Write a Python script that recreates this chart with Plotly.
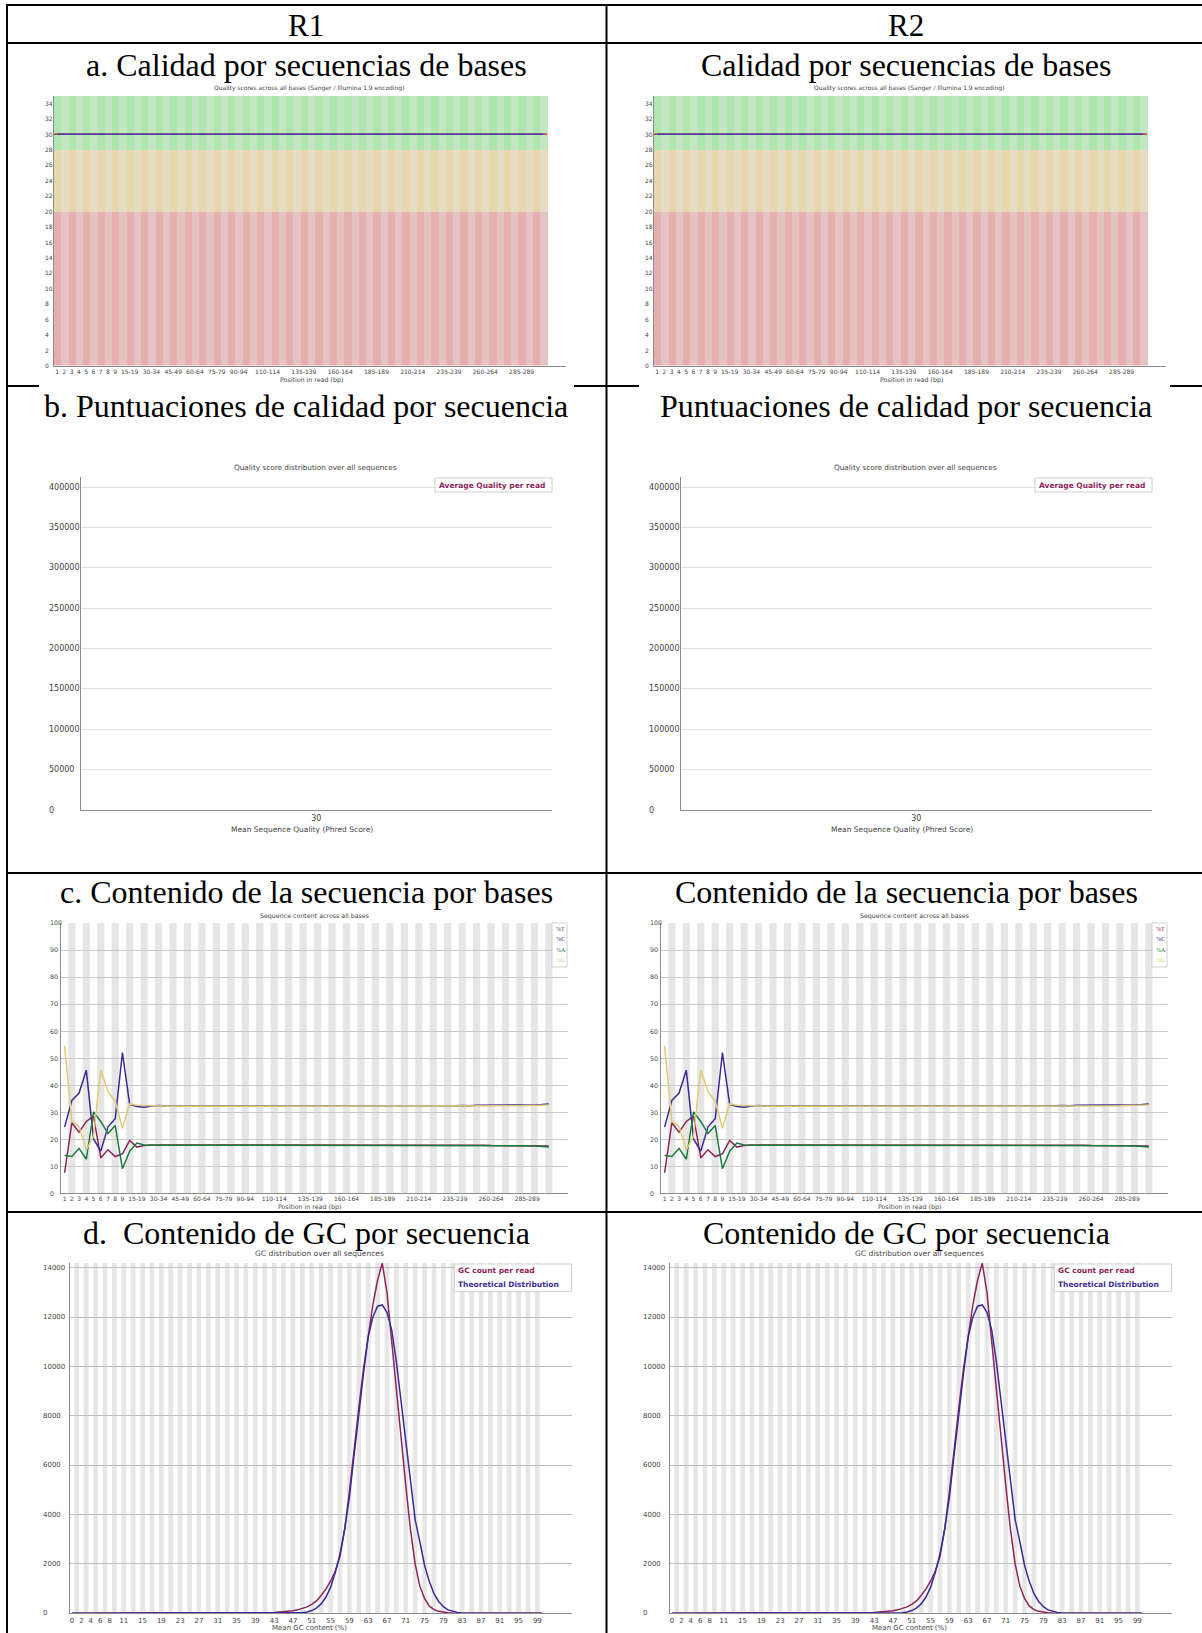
import plotly.graph_objects as go

W, H = 1202, 1633

# ---------------- data ----------------
# read positions (FastQC base groups) for a 301 bp read
positions = [str(i) for i in range(1, 10)] + [f"{s}-{s+4}" for s in range(10, 300, 5)] + ["300-301"]
shown_position_labels = ["1", "2", "3", "4", "5", "6", "7", "8", "9", "15-19", "30-34", "45-49",
                         "60-64", "75-79", "90-94", "110-114", "135-139", "160-164", "185-189",
                         "210-214", "235-239", "260-264", "285-289"]

# a. per base quality (all bases binned at Q30)
quality_mean = [30.0] * 68
quality_median = [30.0] * 68
quality_zone_limits = [0, 20, 28, 35]          # poor / reasonable / good
quality_ticks = [0, 2, 4, 6, 8, 10, 12, 14, 16, 18, 20, 22, 24, 26, 28, 30, 32, 34]

# b. per sequence quality
phred_scores = ["30"]
reads_per_quality = [412500]
count_ticks = [0, 50000, 100000, 150000, 200000, 250000, 300000, 350000, 400000]

# c. per base sequence content (%)
pct_T = [7.5, 26.0, 22.5, 26.5, 28.5, 13.0, 16.0, 13.5, 14.5, 19.5,
         17.0, 17.6, 17.8, 17.8, 17.8, 17.7, 17.8, 17.8, 17.8, 17.8,
         17.8, 17.8, 17.8, 17.8, 17.8, 17.8, 17.8, 17.8, 17.8, 17.8,
         17.8, 17.8, 17.8, 17.8, 17.8, 17.8, 17.8, 17.8, 17.8, 17.8,
         17.8, 17.9, 17.9, 17.9, 17.8, 17.8, 17.8, 17.8, 17.8, 17.8,
         17.8, 17.8, 17.8, 17.7, 17.7, 17.7, 17.7, 17.7, 17.7, 17.6,
         17.6, 17.6, 17.6, 17.6, 17.6, 17.6, 17.5, 17.4]
pct_C = [24.4, 34.3, 37.0, 45.5, 20.0, 15.5, 24.5, 27.5, 52.0, 32.8,
         32.0, 31.8, 32.2, 32.4, 32.2, 32.2, 32.2, 32.1, 32.2, 32.1,
         32.1, 32.2, 32.2, 32.2, 32.2, 32.2, 32.2, 32.1, 32.2, 32.2,
         32.2, 32.2, 32.2, 32.2, 32.2, 32.2, 32.1, 32.2, 32.2, 32.2,
         32.2, 32.2, 32.2, 32.2, 32.2, 32.2, 32.2, 32.2, 32.2, 32.2,
         32.2, 32.2, 32.2, 32.3, 32.3, 32.4, 32.3, 32.5, 32.5, 32.6,
         32.6, 32.5, 32.5, 32.6, 32.7, 32.7, 32.8, 33.0]
pct_A = [14.0, 13.5, 16.5, 12.5, 30.0, 26.5, 22.0, 25.0, 9.0, 15.5,
         18.5, 17.8, 17.7, 17.7, 17.7, 17.7, 17.7, 17.7, 17.7, 17.7,
         17.7, 17.7, 17.7, 17.7, 17.7, 17.7, 17.7, 17.7, 17.7, 17.7,
         17.7, 17.7, 17.7, 17.7, 17.7, 17.7, 17.7, 17.7, 17.7, 17.7,
         17.7, 17.7, 17.7, 17.7, 17.7, 17.7, 17.7, 17.7, 17.7, 17.7,
         17.7, 17.7, 17.7, 17.7, 17.7, 17.7, 17.7, 17.6, 17.6, 17.6,
         17.6, 17.6, 17.5, 17.5, 17.5, 17.4, 17.3, 17.0]
pct_G = [54.5, 26.5, 24.5, 16.0, 21.0, 45.5, 37.5, 34.0, 24.0, 33.0,
         32.5, 32.4, 32.2, 32.2, 32.2, 32.1, 32.1, 32.1, 32.1, 32.1,
         32.1, 32.1, 32.1, 32.1, 32.1, 32.1, 32.1, 32.1, 32.1, 32.1,
         32.1, 32.1, 32.1, 32.1, 32.1, 32.1, 32.1, 32.1, 32.1, 32.1,
         32.1, 32.1, 32.1, 32.1, 32.1, 32.1, 32.1, 32.1, 32.1, 32.1,
         32.1, 32.1, 32.1, 32.2, 32.2, 32.2, 32.2, 32.2, 32.2, 32.3,
         32.3, 32.3, 32.3, 32.3, 32.4, 32.4, 32.5, 32.6]
percent_ticks = [0, 10, 20, 30, 40, 50, 60, 70, 80, 90, 100]

# d. per sequence GC content
gc_percent = list(range(0, 101))
gc_count = [0, 0, 0, 0, 0, 0, 0, 0, 0, 0,
            0, 0, 0, 0, 0, 0, 0, 0, 0, 0,
            0, 0, 0, 0, 0, 0, 0, 0, 0, 0,
            0, 1, 1, 2, 2, 3, 4, 5, 6, 8,
            12, 18, 25, 35, 45, 60, 80, 105, 140, 190,
            260, 360, 500, 720, 980, 1300, 1700, 2300, 3400, 4900,
            6700, 8300, 9900, 11200, 12500, 13500, 14200, 13000, 11000, 9200,
            7200, 5200, 3400, 2000, 1100, 600, 300, 150, 80, 40,
            20, 10, 5, 3, 2, 1, 0, 0, 0, 0,
            0, 0, 0, 0, 0, 0, 0, 0, 0, 0,
            0]
gc_theoretical = [0, 0, 0, 0, 0, 0, 0, 0, 0, 0,
                  0, 0, 0, 0, 0, 0, 0, 0, 0, 0,
                  0, 0, 0, 0, 0, 0, 0, 0, 0, 0,
                  0, 0, 0, 0, 0, 0, 0, 0, 0, 0,
                  0, 0, 0, 0, 0, 1, 2, 5, 11, 25,
                  55, 110, 210, 380, 650, 1050, 1650, 2400, 3400, 4700,
                  6400, 8100, 9700, 11200, 12000, 12450, 12500, 12200, 11500, 10200,
                  8700, 7000, 5400, 3800, 2900, 1950, 1300, 800, 480, 270,
                  140, 70, 32, 14, 6, 2, 1, 0, 0, 0,
                  0, 0, 0, 0, 0, 0, 0, 0, 0, 0,
                  0]
gc_xticks = [0, 2, 4, 6, 8, 11, 15, 19, 23, 27, 31, 35, 39, 43, 47, 51, 55, 59, 63, 67, 71, 75, 79, 83, 87, 91, 95, 99]
gc_yticks = [0, 2000, 4000, 6000, 8000, 10000, 12000, 14000]

column_headers = ["R1", "R2"]
row_titles = [
    ["a. Calidad por secuencias de bases", "Calidad por secuencias de bases"],
    ["b. Puntuaciones de calidad por secuencia", "Puntuaciones de calidad por secuencia"],
    ["c. Contenido de la secuencia por bases", "Contenido de la secuencia por bases"],
    ["d.\u00a0 Contenido de GC por secuencia", "Contenido de GC por secuencia"],
]

# ---------------- styling ----------------
FONT = "DejaVu Sans"
SERIF = "Liberation Serif"
TXT = "#444444"
AXLINE = "#8c8c8c"
STRIPE = "#e6e6e6"
COL_T, COL_C, COL_A, COL_G = "#8e2459", "#3a2c98", "#1a7a3a", "#dccb78"
ZONE_COLORS = [("#e6afaf", "#e6c3c3"), ("#e6d7af", "#e6dcc3"), ("#afe6af", "#c3e6c3")]
COL_OFF = [0, 600]

fig = go.Figure()
annotations = []
shapes = []
axes = {}


def px_x(px):
    return px / W


def px_y(py):
    return 1 - py / H


def ids(k):
    s = "" if k == 1 else str(k)
    return "x" + s, "y" + s, "xaxis" + s, "yaxis" + s


def label(x, y, s, size, color=TXT, family=FONT, xanchor="center", yanchor="middle",
          xref="paper", yref="paper"):
    annotations.append(dict(x=x, y=y, xref=xref, yref=yref, text=s, showarrow=False,
                            xanchor=xanchor, yanchor=yanchor,
                            font=dict(family=family, size=size, color=color)))


def base_axes(xa, ya, xk, yk, x0, x1, top, bottom):
    axes[xk] = dict(domain=[px_x(x0), px_x(x1)], anchor=ya,
                    showgrid=False, zeroline=False, showline=True, linecolor=AXLINE, linewidth=1,
                    ticks="", fixedrange=True)
    axes[yk] = dict(domain=[px_y(bottom), px_y(top)], anchor=xa, showgrid=False, zeroline=False,
                    showline=True, linecolor=AXLINE, linewidth=1, ticks="",
                    showticklabels=False, fixedrange=True)


def legend_box(x0, x1, top, bottom):
    shapes.append(dict(type="rect", xref="paper", yref="paper", x0=px_x(x0), x1=px_x(x1),
                       y0=px_y(bottom), y1=px_y(top), line=dict(color="#cfcfcf", width=1),
                       fillcolor="white", layer="above"))


group_x = list(range(1, len(positions) + 1))
pos_tickvals = [positions.index(l) + 1 for l in shown_position_labels]

for col in range(2):
    off = COL_OFF[col]

    # ---------- a. per base quality ----------
    xa, ya, xk, yk = ids(1 + col)
    x0, x1, top, bottom = 53.5 + off, 566 + off, 95.5, 365.5
    gw = (547 - 53.5) / len(positions)
    base_axes(xa, ya, xk, yk, x0, x1, top, bottom)
    axes[xk].update(range=[0.5, 0.5 + (x1 - x0) / gw], tickvals=pos_tickvals,
                    ticktext=shown_position_labels, tickfont=dict(family=FONT, size=6, color=TXT))
    axes[yk].update(range=[quality_zone_limits[0], quality_zone_limits[-1]])
    for z in range(3):
        lo, hi = quality_zone_limits[z], quality_zone_limits[z + 1]
        dark, light = ZONE_COLORS[z]
        fig.add_trace(go.Bar(x=group_x, y=[hi - lo] * len(group_x), base=lo, width=1,
                             marker=dict(color=[dark if j % 2 == 0 else light for j in range(len(group_x))],
                                         line=dict(width=0)),
                             xaxis=xa, yaxis=ya, showlegend=False, hoverinfo="skip"))
    mx, my = [], []
    for g, m in zip(group_x, quality_median):
        mx += [g - 0.5, g + 0.5, None]
        my += [m, m, None]
    fig.add_trace(go.Scatter(x=mx, y=my, mode="lines", line=dict(color="#d01010", width=1.2),
                             xaxis=xa, yaxis=ya, showlegend=False, hoverinfo="skip"))
    fig.add_trace(go.Scatter(x=group_x, y=quality_mean, mode="lines", line=dict(color="#2a3cc0", width=1.2),
                             xaxis=xa, yaxis=ya, showlegend=False, hoverinfo="skip"))
    for v in quality_ticks:
        label(px_x(43 + off), v, str(v), 6, xanchor="left", yref=ya)
    label(px_x(309 + off), px_y(88), "Quality scores across all bases (Sanger / Illumina 1.9 encoding)", 6)
    label(px_x(311 + off), px_y(380), "Position in read (bp)", 6.3)

    # ---------- b. per sequence quality ----------
    xa, ya, xk, yk = ids(3 + col)
    x0, x1, top, bottom = 80.5 + off, 552 + off, 477, 810
    base_axes(xa, ya, xk, yk, x0, x1, top, bottom)
    axes[xk].update(type="category", range=[-0.5, 0.5], tickfont=dict(family=FONT, size=8, color=TXT))
    axes[yk].update(range=[0, max(reads_per_quality)], showgrid=True, gridcolor="#dedede", gridwidth=1.3,
                    tickvals=count_ticks)
    fig.add_trace(go.Scatter(x=phred_scores, y=reads_per_quality, mode="lines",
                             line=dict(color=COL_T, width=1.5), xaxis=xa, yaxis=ya,
                             showlegend=False, hoverinfo="skip"))
    for v in count_ticks:
        label(px_x(46.7 + off), v, str(v), 8, xanchor="left", yref=ya)
    label(px_x(315.5 + off), px_y(468), "Quality score distribution over all sequences", 7.3)
    label(px_x(302 + off), px_y(829), "Mean Sequence Quality (Phred Score)", 7.5)
    legend_box(435 + off, 552 + off, 478, 492)
    label(px_x(437 + off), px_y(485), "<b>Average Quality per read</b>", 7.5, color=COL_T, xanchor="left")

    # ---------- c. per base sequence content ----------
    xa, ya, xk, yk = ids(5 + col)
    x0, x1, top, bottom = 61 + off, 568 + off, 923, 1193
    gw = (552.5 - 61) / len(positions)
    base_axes(xa, ya, xk, yk, x0, x1, top, bottom)
    axes[xk].update(range=[0.5, 0.5 + (x1 - x0) / gw], tickvals=pos_tickvals,
                    ticktext=shown_position_labels, tickfont=dict(family=FONT, size=6, color=TXT))
    axes[yk].update(range=[percent_ticks[0], percent_ticks[-1]], showgrid=True, gridcolor="#c9c9c9",
                    gridwidth=1, tickvals=percent_ticks)
    for j, g in enumerate(group_x):
        if j % 2 == 1:
            shapes.append(dict(type="rect", xref=xa, yref=ya + " domain", x0=g - 0.5, x1=g + 0.5,
                               y0=0, y1=1, fillcolor=STRIPE, line=dict(width=0), layer="below"))
    for series, colr in [(pct_T, COL_T), (pct_C, COL_C), (pct_A, COL_A), (pct_G, COL_G)]:
        fig.add_trace(go.Scatter(x=group_x, y=series, mode="lines", line=dict(color=colr, width=1.5),
                                 xaxis=xa, yaxis=ya, showlegend=False, hoverinfo="skip"))
    for v in percent_ticks:
        label(px_x(47.5 + off), v, str(v), 6.3, xanchor="left", yref=ya)
    label(px_x(314 + off), px_y(916), "Sequence content across all bases", 6.3)
    label(px_x(309 + off), px_y(1207), "Position in read (bp)", 6.3)
    legend_box(552 + off, 567 + off, 923, 967)
    for name, colr, yy in [("%T", COL_T, 928.5), ("%C", COL_C, 939), ("%A", COL_A, 949.5), ("%G", COL_G, 960)]:
        label(px_x(553.5 + off), px_y(yy), name, 6, color=colr, family=SERIF, xanchor="left")

    # ---------- d. per sequence GC content ----------
    xa, ya, xk, yk = ids(7 + col)
    x0, x1, top, bottom = 69.7 + off, 571.7 + off, 1263, 1613.3
    gw = 4.70
    base_axes(xa, ya, xk, yk, x0, x1, top, bottom)
    axes[xk].update(range=[-0.5, -0.5 + (x1 - x0) / gw], tickvals=gc_xticks,
                    tickfont=dict(family=FONT, size=7, color=TXT))
    axes[yk].update(range=[0, max(gc_count)], showgrid=True, gridcolor="#bdbdbd", gridwidth=1,
                    tickvals=gc_yticks)
    for v in gc_percent:
        if v % 2 == 1:
            shapes.append(dict(type="rect", xref=xa, yref=ya + " domain", x0=v - 0.5, x1=v + 0.5,
                               y0=0, y1=1, fillcolor=STRIPE, line=dict(width=0), layer="below"))
    fig.add_trace(go.Scatter(x=gc_percent, y=gc_count, mode="lines", line=dict(color=COL_T, width=1.5),
                             xaxis=xa, yaxis=ya, showlegend=False, hoverinfo="skip"))
    fig.add_trace(go.Scatter(x=gc_percent, y=gc_theoretical, mode="lines", line=dict(color=COL_C, width=1.5),
                             xaxis=xa, yaxis=ya, showlegend=False, hoverinfo="skip"))
    for v in gc_yticks:
        label(px_x(41 + off), v, str(v), 7, xanchor="left", yref=ya)
    label(px_x(319.5 + off), px_y(1253), "GC distribution over all sequences", 7.5)
    label(px_x(309 + off), px_y(1627.5), "Mean GC content (%)", 7)
    legend_box(454.3 + off, 571.7 + off, 1264, 1291.7)
    label(px_x(456 + off), px_y(1270.5), "<b>GC count per read</b>", 7.5, color=COL_T, xanchor="left")
    label(px_x(456 + off), px_y(1284), "<b>Theoretical Distribution</b>", 7.5, color=COL_C, xanchor="left")

    # ---------- table text ----------
    cx = 306 + off
    label(px_x(cx), px_y(25), column_headers[col], 31, color="black", family=SERIF)
    for r, yy in enumerate([64.5, 406, 892, 1233]):
        label(px_x(cx), px_y(yy), row_titles[r][col], 32, color="black", family=SERIF)


# ---------- table borders ----------
def hline(y, xa0, xa1):
    shapes.append(dict(type="line", xref="paper", yref="paper", x0=px_x(xa0), x1=px_x(xa1),
                       y0=px_y(y), y1=px_y(y), line=dict(color="black", width=2), layer="above"))


def vline(x, y0, y1):
    shapes.append(dict(type="line", xref="paper", yref="paper", x0=px_x(x), x1=px_x(x),
                       y0=px_y(y0), y1=px_y(y1), line=dict(color="black", width=2), layer="above"))


hline(5, 6, W)
hline(43, 6, W)
hline(386, 6, 39)
hline(386, 574, 639)
hline(386, 1170, W)
hline(873, 6, W)
hline(1212, 6, W)
vline(7, 4, H)
vline(606.5, 4, H)

fig.update_layout(width=W, height=H, margin=dict(l=0, r=0, t=0, b=0),
                  paper_bgcolor="white", plot_bgcolor="white", barmode="overlay", bargap=0,
                  showlegend=False, annotations=annotations, shapes=shapes, **axes)

fig.write_html("out.html", config={"displayModeBar": False},
               post_script="document.body.style.margin='0px';")
